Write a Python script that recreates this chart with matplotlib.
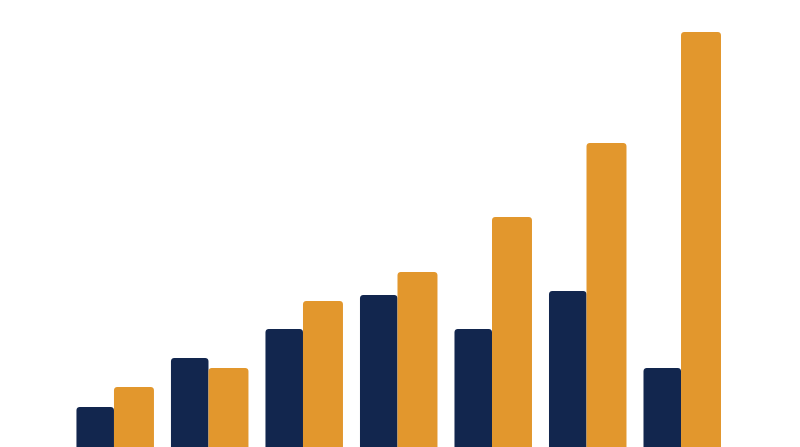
import matplotlib
matplotlib.use("Agg")
import matplotlib.pyplot as plt
from matplotlib.patches import FancyBboxPatch

groups = ["G1", "G2", "G3", "G4", "G5", "G6", "G7"]
series_a = [40, 89, 118, 152, 118, 156, 79]
series_b = [60, 79, 146, 175, 230, 304, 415]

NAVY = "#12264e"
ORANGE = "#e2972d"

fig = plt.figure(figsize=(8.0, 4.47), dpi=100)
ax = fig.add_axes([0, 0, 1, 1])
x = list(range(len(groups)))
wa, wb = 0.397, 0.423

bars_a = ax.bar(x, series_a, width=-wa, align="edge", color=NAVY)
bars_b = ax.bar(x, series_b, width=wb, align="edge", color=ORANGE)

XMIN, XMAX = -1.206, 7.259
YMAX = 447
ax.set_xlim(XMIN, XMAX)
ax.set_ylim(0, YMAX)

# redraw bars with slightly rounded top corners (bottom is clipped off-canvas)
px_x = (XMAX - XMIN) / 800.0
px_y = YMAX / 447.0
for bars, col in ((bars_a, NAVY), (bars_b, ORANGE)):
    for b in bars:
        bx, by, bw, bh = b.get_x(), b.get_y(), b.get_width(), b.get_height()
        if bw < 0:
            bx, bw = bx + bw, -bw
        b.set_visible(False)
        p = FancyBboxPatch((bx, by - 10), bw, bh + 10,
                           boxstyle="round,pad=0,rounding_size=%f" % (3.5 * px_x),
                           mutation_aspect=px_y / px_x,
                           facecolor=col, edgecolor="none")
        ax.add_patch(p)

ax.axis("off")
fig.savefig("out.png", dpi=100)
